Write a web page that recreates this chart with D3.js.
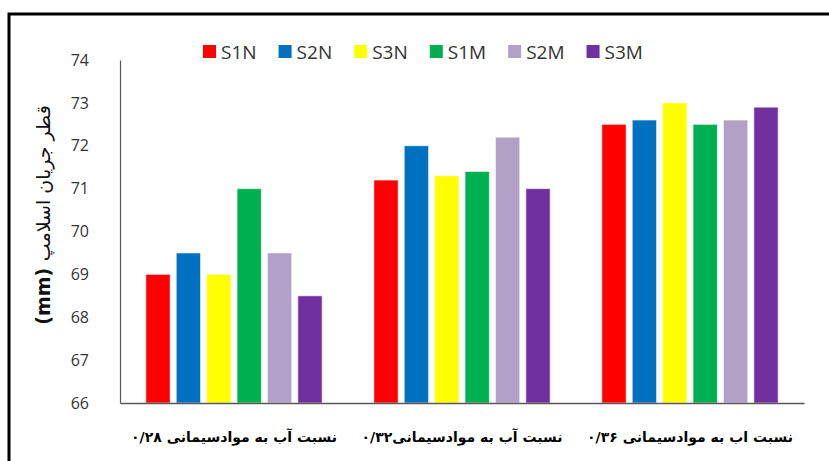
<!DOCTYPE html>
<html lang="fa">
<head>
<meta charset="utf-8">
<title>Slump flow</title>
<script src="https://d3js.org/d3.v7.min.js"></script>
<style>
  body { margin: 0; background: #fff; }
  svg { display: block; }
  .tick text { font-family: "Open Sans", sans-serif; font-size: 16px; fill: #333; }
</style>
</head>
<body>
<svg id="chart"></svg>
<script>
const width = 829;
const height = 461;

// data
const groups = ["نسبت آب به موادسیمانی ۰/۲۸", "نسبت آب به موادسیمانی۰/۳۲", "نسبت اب به موادسیمانی ۰/۳۶"];
const series = ["S1N", "S2N", "S3N", "S1M", "S2M", "S3M"];
const colors = ["#ff0000", "#0070c0", "#ffff00", "#00b050", "#b2a1c7", "#7030a0"];
const S1N = [69.0, 71.2, 72.5];
const S2N = [69.5, 72.0, 72.6];
const S3N = [69.0, 71.3, 73.0];
const S1M = [71.0, 71.4, 72.5];
const S2M = [69.5, 72.2, 72.6];
const S3M = [68.5, 71.0, 72.9];
const values = [S1N, S2N, S3N, S1M, S2M, S3M];
const yTicks = [66, 67, 68, 69, 70, 71, 72, 73, 74];

const svg = d3.select("#chart").attr("width", width).attr("height", height);

// outer frame
svg.append("rect")
    .attr("x", 9).attr("y", 14)
    .attr("width", 900).attr("height", 500)
    .attr("fill", "#fff")
    .attr("stroke", "#000")
    .attr("stroke-width", 3);

const margin = {left: 120, right: 24, top: 60, bottom: 58};

const x0 = d3.scaleBand()
    .domain(groups)
    .range([margin.left, width - margin.right - 1])
    .paddingInner(0.2)
    .paddingOuter(0.1);

const x1 = d3.scaleBand()
    .domain(series)
    .range([0, x0.bandwidth()])
    .paddingInner(0.2)
    .paddingOuter(0.1);

const y = d3.scaleLinear()
    .domain([66, 74])
    .range([height - margin.bottom, margin.top]);

// bars
const g = svg.selectAll(".group")
    .data(groups)
    .enter()
    .append("g")
    .attr("class", "group")
    .attr("transform", d => `translate(${x0(d)},0)`);

g.selectAll("rect")
    .data((d, gi) => series.map((s, si) => ({s, si, v: values[si][gi]})))
    .enter()
    .append("rect")
    .attr("x", d => x1(d.s))
    .attr("width", x1.bandwidth())
    .attr("y", d => y(d.v))
    .attr("height", d => y(66) - y(d.v))
    .attr("fill", d => colors[d.si])
    .attr("stroke", "#fff")
    .attr("stroke-opacity", 0.6)
    .attr("stroke-width", 1);

// y axis
const yAxis = svg.append("g")
    .attr("transform", `translate(${margin.left},0)`)
    .call(d3.axisLeft(y).tickValues(yTicks).tickSize(0).tickPadding(31));
yAxis.select(".domain").attr("stroke", "#595959").attr("stroke-width", 1.2);

// x axis
const xAxis = svg.append("g")
    .attr("transform", `translate(0,${y(66)})`)
    .call(d3.axisBottom(x0).tickSize(0).tickFormat(""));
xAxis.select(".domain").attr("stroke", "#595959").attr("stroke-width", 1.5);

svg.selectAll(".xlabel")
    .data(groups)
    .enter()
    .append("text")
    .attr("class", "xlabel")
    .attr("x", d => x0(d) + x0.bandwidth() / 2)
    .attr("y", 442)
    .attr("text-anchor", "middle")
    .attr("direction", "rtl")
    .attr("font-family", "DejaVu Sans, sans-serif")
    .attr("font-weight", "bold")
    .attr("font-size", 14)
    .attr("fill", "#000")
    .text(d => d);

// y title
const yTitle = svg.append("text")
    .attr("transform", "translate(50,215) rotate(-90)")
    .attr("text-anchor", "middle")
    .attr("font-family", "DejaVu Sans, sans-serif")
    .attr("font-size", 19)
    .attr("fill", "#111");
yTitle.append("tspan").attr("font-weight", "bold").text("(mm) ");
yTitle.append("tspan").text("قطر جریان اسلامپ");

// legend
const legend = svg.append("g").attr("class", "legend");
let lx = 203;
series.forEach((s, i) => {
    legend.append("rect")
        .attr("x", lx).attr("y", 45)
        .attr("width", 13).attr("height", 13)
        .attr("fill", colors[i]);
    const t = legend.append("text")
        .attr("x", lx + 18).attr("y", 59)
        .attr("font-family", "Open Sans, sans-serif")
        .attr("font-size", 19)
        .attr("fill", "#333")
        .text(s);
    lx += 18 + t.node().getComputedTextLength() + 22;
});
</script>
</body>
</html>
